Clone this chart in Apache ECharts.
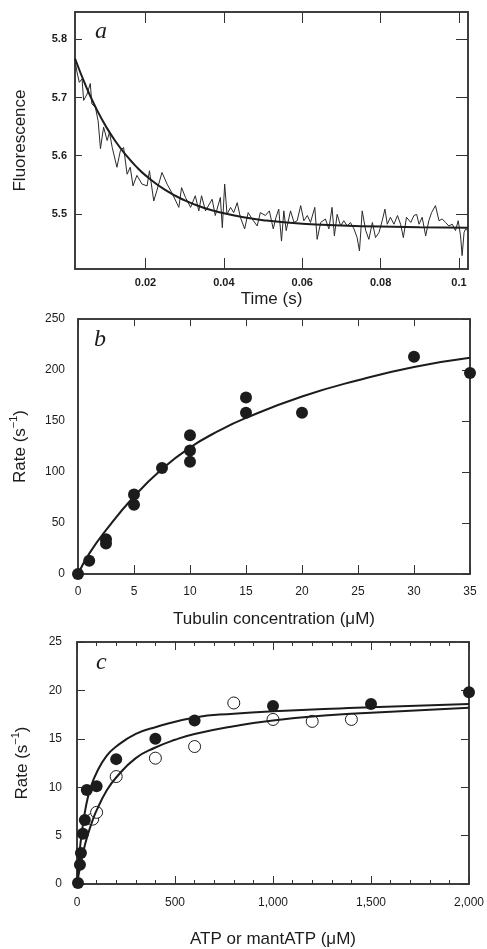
<!DOCTYPE html>
<html>
<head>
<meta charset="utf-8">
<title>Kinetics panels</title>
<script src="https://cdn.jsdelivr.net/npm/echarts@6/dist/echarts.min.js"></script>
<style>
  html, body { margin: 0; padding: 0; background: #fff; }
  #main { width: 487px; height: 949px; }
</style>
</head>
<body>
<div id="main"></div>
<script>
// panel a: stopped-flow trace + single exponential fit
const traceT = [0.0020, 0.0025, 0.0031, 0.0038, 0.0042, 0.0051, 0.0059, 0.0063, 0.0072, 0.0079,
  0.0085, 0.0093, 0.0102, 0.0108, 0.0115, 0.0127, 0.0136, 0.0144, 0.0153, 0.0161,
  0.0168, 0.0178, 0.0191, 0.0204, 0.0210, 0.0221, 0.0229, 0.0242, 0.0255, 0.0268,
  0.0285, 0.0292, 0.0302, 0.0315, 0.0327, 0.0336, 0.0343, 0.0353, 0.0370, 0.0378,
  0.0391, 0.0396, 0.0402, 0.0408, 0.0417, 0.0425, 0.0434, 0.0442, 0.0453, 0.0462,
  0.0472, 0.0485, 0.0493, 0.0506, 0.0516, 0.0526, 0.0533, 0.0540, 0.0547, 0.0553,
  0.0559, 0.0570, 0.0579, 0.0587, 0.0596, 0.0604, 0.0613, 0.0621, 0.0632, 0.0638,
  0.0647, 0.0659, 0.0668, 0.0676, 0.0682, 0.0689, 0.0698, 0.0706, 0.0715, 0.0723,
  0.0732, 0.0740, 0.0746, 0.0753, 0.0762, 0.0770, 0.0779, 0.0787, 0.0796, 0.0804,
  0.0811, 0.0817, 0.0825, 0.0834, 0.0843, 0.0851, 0.0858, 0.0866, 0.0877, 0.0885,
  0.0892, 0.0898, 0.0906, 0.0915, 0.0923, 0.0930, 0.0940, 0.0949, 0.0957, 0.0966,
  0.0974, 0.0983, 0.0991, 0.0998, 0.1004, 0.1008, 0.1013, 0.1017, 0.1023]
const traceF = [5.764, 5.744, 5.726, 5.732, 5.695, 5.706, 5.724, 5.689, 5.683, 5.660,
  5.612, 5.649, 5.626, 5.640, 5.614, 5.580, 5.609, 5.614, 5.568, 5.580,
  5.548, 5.566, 5.551, 5.548, 5.574, 5.522, 5.540, 5.571, 5.551, 5.535,
  5.511, 5.545, 5.528, 5.511, 5.531, 5.505, 5.531, 5.505, 5.525, 5.497,
  5.528, 5.476, 5.551, 5.499, 5.511, 5.502, 5.519, 5.494, 5.474, 5.502,
  5.491, 5.479, 5.502, 5.497, 5.505, 5.474, 5.494, 5.508, 5.453, 5.505,
  5.471, 5.505, 5.485, 5.488, 5.514, 5.488, 5.497, 5.485, 5.511, 5.456,
  5.485, 5.491, 5.474, 5.511, 5.462, 5.499, 5.479, 5.488, 5.479, 5.485,
  5.474, 5.459, 5.436, 5.505, 5.471, 5.456, 5.485, 5.459, 5.468, 5.488,
  5.508, 5.482, 5.494, 5.482, 5.497, 5.482, 5.459, 5.494, 5.485, 5.497,
  5.499, 5.482, 5.494, 5.462, 5.488, 5.502, 5.514, 5.488, 5.491, 5.485,
  5.479, 5.482, 5.471, 5.488, 5.462, 5.428, 5.468, 5.474, 5.470]
const fitT = [0.002, 0.005, 0.0075, 0.01, 0.0125, 0.015, 0.0175, 0.02, 0.025, 0.03,
  0.035, 0.04, 0.045, 0.05, 0.06, 0.07, 0.08, 0.09, 0.1023]
const fitF = [5.767, 5.716, 5.680, 5.649, 5.623, 5.601, 5.582, 5.566, 5.541, 5.523,
  5.510, 5.501, 5.494, 5.489, 5.483, 5.480, 5.478, 5.477, 5.476]
const timeTicks = [0.02, 0.04, 0.06, 0.08, 0.1]
const fluorTicks = [5.5, 5.6, 5.7, 5.8]

// panel b: rate vs tubulin
const tubConc = [0, 1, 2.5, 2.5, 5, 5, 7.5, 10, 10, 10, 15, 15, 20, 30, 35]
const tubRate = [0, 13, 34, 30, 78, 68, 104, 136, 121, 110, 173, 158, 158, 213, 197]
const tubFitConc = [0, 1, 2.5, 5, 7.5, 10, 12.5, 15, 20, 25, 30, 35]
const tubFitRate = [0, 20, 43, 76, 103, 124, 140, 153, 174, 190, 203, 212]

// panel c: rate vs ATP (filled) / mantATP (open)
const atpConc = [5, 15, 20, 30, 40, 50, 100, 200, 400, 600, 1000, 1500, 2000]
const atpRate = [0.1, 2.0, 3.2, 5.2, 6.6, 9.7, 10.1, 12.9, 15.0, 16.9, 18.4, 18.6, 19.8]
const mantConc = [80, 100, 200, 400, 600, 800, 1000, 1200, 1400]
const mantRate = [6.7, 7.4, 11.1, 13.0, 14.2, 18.7, 17.0, 16.8, 17.0]
const atpFitConc = [0, 10, 20, 30, 40, 55, 70, 100, 150, 200, 300, 400, 600, 800, 1000, 1500, 2000]
const atpFitRate = [0, 2.6, 4.6, 6.1, 7.4, 8.9, 10.0, 11.5, 13.2, 14.2, 15.5, 16.2, 17.2, 17.6, 17.85, 18.25, 18.6]
const mantFitConc = [0, 20, 40, 60, 80, 100, 150, 200, 300, 400, 500, 600, 800, 1000, 1300, 1500, 2000]
const mantFitRate = [0, 2.2, 4.0, 5.4, 6.6, 7.6, 9.6, 11.0, 13.0, 14.1, 14.9, 15.5, 16.3, 16.9, 17.45, 17.7, 18.2]

const zip = (xs, ys) => xs.map((x, i) => [x, ys[i]])

const INK = '#1c1c1c'
const FRAME = '#333'
const SANS = 'Liberation Sans'

function panelTitle (text, left, top) {
  return {
    text: text,
    left: left,
    top: top,
    padding: 0,
    textStyle: { fontFamily: 'Liberation Serif', fontStyle: 'italic', fontWeight: 'normal', fontSize: 24, color: INK }
  }
}

// main axis (bottom / left) with labels and inward ticks
function mainAxis (grid, pos, cfg) {
  return Object.assign({
    type: 'value',
    gridIndex: grid,
    position: pos,
    nameLocation: 'middle',
    nameTextStyle: { fontFamily: SANS, fontSize: 17, color: INK },
    axisLine: { show: true, onZero: false, lineStyle: { color: FRAME, width: 1.5 } },
    axisTick: { show: true, inside: true, length: 9, lineStyle: { color: FRAME, width: 1 } },
    axisLabel: { fontFamily: SANS, fontSize: 12, color: INK },
    splitLine: { show: false }
  }, cfg)
}

// mirror axis (top / right), ticks only
function mirrorAxis (grid, pos, cfg) {
  return Object.assign({
    type: 'value',
    gridIndex: grid,
    position: pos,
    axisLine: { show: true, onZero: false, lineStyle: { color: FRAME, width: 1.5 } },
    axisTick: { show: true, inside: true, length: 9, lineStyle: { color: FRAME, width: 1 } },
    axisLabel: { show: false },
    splitLine: { show: false }
  }, cfg)
}

// smooth fitted curve
function fitLine (xi, yi, data) {
  return {
    type: 'line',
    xAxisIndex: xi,
    yAxisIndex: yi,
    data: data,
    showSymbol: false,
    smooth: true,
    z: 3,
    lineStyle: { color: INK, width: 2 }
  }
}

const rateName = {
  fontFamily: SANS,
  fontSize: 17,
  color: INK,
  rich: {
    sup: { fontFamily: SANS, fontSize: 11, color: INK, padding: [0, 0, 14, 0] }
  }
}

const option = {
  backgroundColor: '#fff',
  animation: false,
  title: [
    panelTitle('a', 95, 20),
    panelTitle('b', 94, 328),
    panelTitle('c', 96, 651)
  ],
  grid: [
    { left: 75, right: 19, top: 12, height: 257, show: true, borderColor: FRAME, borderWidth: 1.5 },
    { left: 76, right: 17, top: 319, height: 255, show: true, borderColor: FRAME, borderWidth: 1.5 },
    { left: 77, right: 15, top: 642, height: 244, show: true, borderColor: FRAME, borderWidth: 1.5 }
  ],
  xAxis: [
    mainAxis(0, 'bottom', {
      min: 0.002,
      max: 0.1023,
      name: 'Time (s)',
      nameGap: 22,
      axisTick: { show: true, inside: true, length: 11, customValues: timeTicks, lineStyle: { color: FRAME } },
      axisLabel: {
        customValues: timeTicks,
        fontFamily: SANS, fontSize: 11, fontWeight: 'bold', color: INK, margin: 8,
        formatter: v => String(+v.toFixed(2))
      }
    }),
    mirrorAxis(0, 'top', {
      min: 0.002,
      max: 0.1023,
      axisTick: { show: true, inside: true, length: 11, customValues: timeTicks, lineStyle: { color: FRAME } }
    }),
    mainAxis(1, 'bottom', {
      min: 0,
      max: 35,
      interval: 5,
      name: 'Tubulin concentration (μM)',
      nameGap: 37,
      axisLabel: { fontFamily: SANS, fontSize: 12, color: INK, margin: 12 }
    }),
    mirrorAxis(1, 'top', {
      min: 0,
      max: 35,
      interval: 5,
      axisTick: { show: true, inside: true, length: 7, lineStyle: { color: FRAME } }
    }),
    mainAxis(2, 'bottom', {
      min: 0,
      max: 2000,
      interval: 500,
      name: 'ATP or mantATP (μM)',
      nameGap: 47,
      axisTick: { show: true, inside: true, length: 8, lineStyle: { color: FRAME } },
      minorTick: { show: true, splitNumber: 5, length: 4, lineStyle: { color: FRAME } },
      axisLabel: {
        fontFamily: SANS, fontSize: 12, color: INK, margin: 13,
        formatter: v => v.toLocaleString('en-US')
      }
    }),
    mirrorAxis(2, 'top', {
      min: 0,
      max: 2000,
      interval: 500,
      axisTick: { show: true, inside: true, length: 8, lineStyle: { color: FRAME } },
      minorTick: { show: true, splitNumber: 5, length: 4, lineStyle: { color: FRAME } }
    })
  ],
  yAxis: [
    mainAxis(0, 'left', {
      min: 5.405,
      max: 5.847,
      name: 'Fluorescence',
      nameGap: 46,
      axisTick: { show: true, inside: true, length: 7, customValues: fluorTicks, lineStyle: { color: FRAME } },
      axisLabel: {
        customValues: fluorTicks,
        fontFamily: SANS, fontSize: 11, fontWeight: 'bold', color: INK, margin: 8,
        formatter: v => v.toFixed(1)
      }
    }),
    mirrorAxis(0, 'right', {
      min: 5.405,
      max: 5.847,
      axisTick: { show: true, inside: true, length: 12, customValues: fluorTicks, lineStyle: { color: FRAME } }
    }),
    mainAxis(1, 'left', {
      min: 0,
      max: 250,
      interval: 50,
      name: 'Rate (s{sup|−1})',
      nameGap: 45,
      nameTextStyle: rateName,
      axisTick: { show: false },
      axisLabel: { fontFamily: SANS, fontSize: 12, color: INK, margin: 13 }
    }),
    mirrorAxis(1, 'right', {
      min: 0,
      max: 250,
      interval: 50,
      axisTick: { show: true, inside: true, length: 8, lineStyle: { color: FRAME } }
    }),
    mainAxis(2, 'left', {
      min: 0,
      max: 25,
      interval: 5,
      name: 'Rate (s{sup|−1})',
      nameGap: 42,
      nameTextStyle: rateName,
      axisTick: { show: true, inside: true, length: 8, lineStyle: { color: FRAME } },
      axisLabel: { fontFamily: SANS, fontSize: 12, color: INK, margin: 15 }
    }),
    mirrorAxis(2, 'right', {
      min: 0,
      max: 25,
      interval: 5,
      axisTick: { show: true, inside: true, length: 8, lineStyle: { color: FRAME } }
    })
  ],
  series: [
    {
      name: 'trace',
      type: 'line',
      xAxisIndex: 0,
      yAxisIndex: 0,
      data: zip(traceT, traceF),
      showSymbol: false,
      clip: true,
      lineStyle: { color: '#2a2a2a', width: 1 }
    },
    fitLine(0, 0, zip(fitT, fitF)),
    {
      name: 'tubulin',
      type: 'scatter',
      xAxisIndex: 2,
      yAxisIndex: 2,
      data: zip(tubConc, tubRate),
      symbolSize: 12,
      clip: false,
      itemStyle: { color: INK, opacity: 1 }
    },
    fitLine(2, 2, zip(tubFitConc, tubFitRate)),
    {
      name: 'mantATP',
      type: 'scatter',
      xAxisIndex: 4,
      yAxisIndex: 4,
      data: zip(mantConc, mantRate),
      symbolSize: 12,
      clip: false,
      itemStyle: { color: '#fff', borderColor: INK, borderWidth: 1, opacity: 1 }
    },
    {
      name: 'ATP',
      type: 'scatter',
      xAxisIndex: 4,
      yAxisIndex: 4,
      data: zip(atpConc, atpRate),
      symbolSize: 12,
      clip: false,
      itemStyle: { color: INK, opacity: 1 }
    },
    fitLine(4, 4, zip(atpFitConc, atpFitRate)),
    fitLine(4, 4, zip(mantFitConc, mantFitRate))
  ]
}

const chart = echarts.init(document.getElementById('main'))
chart.setOption(option)
</script>
</body>
</html>
